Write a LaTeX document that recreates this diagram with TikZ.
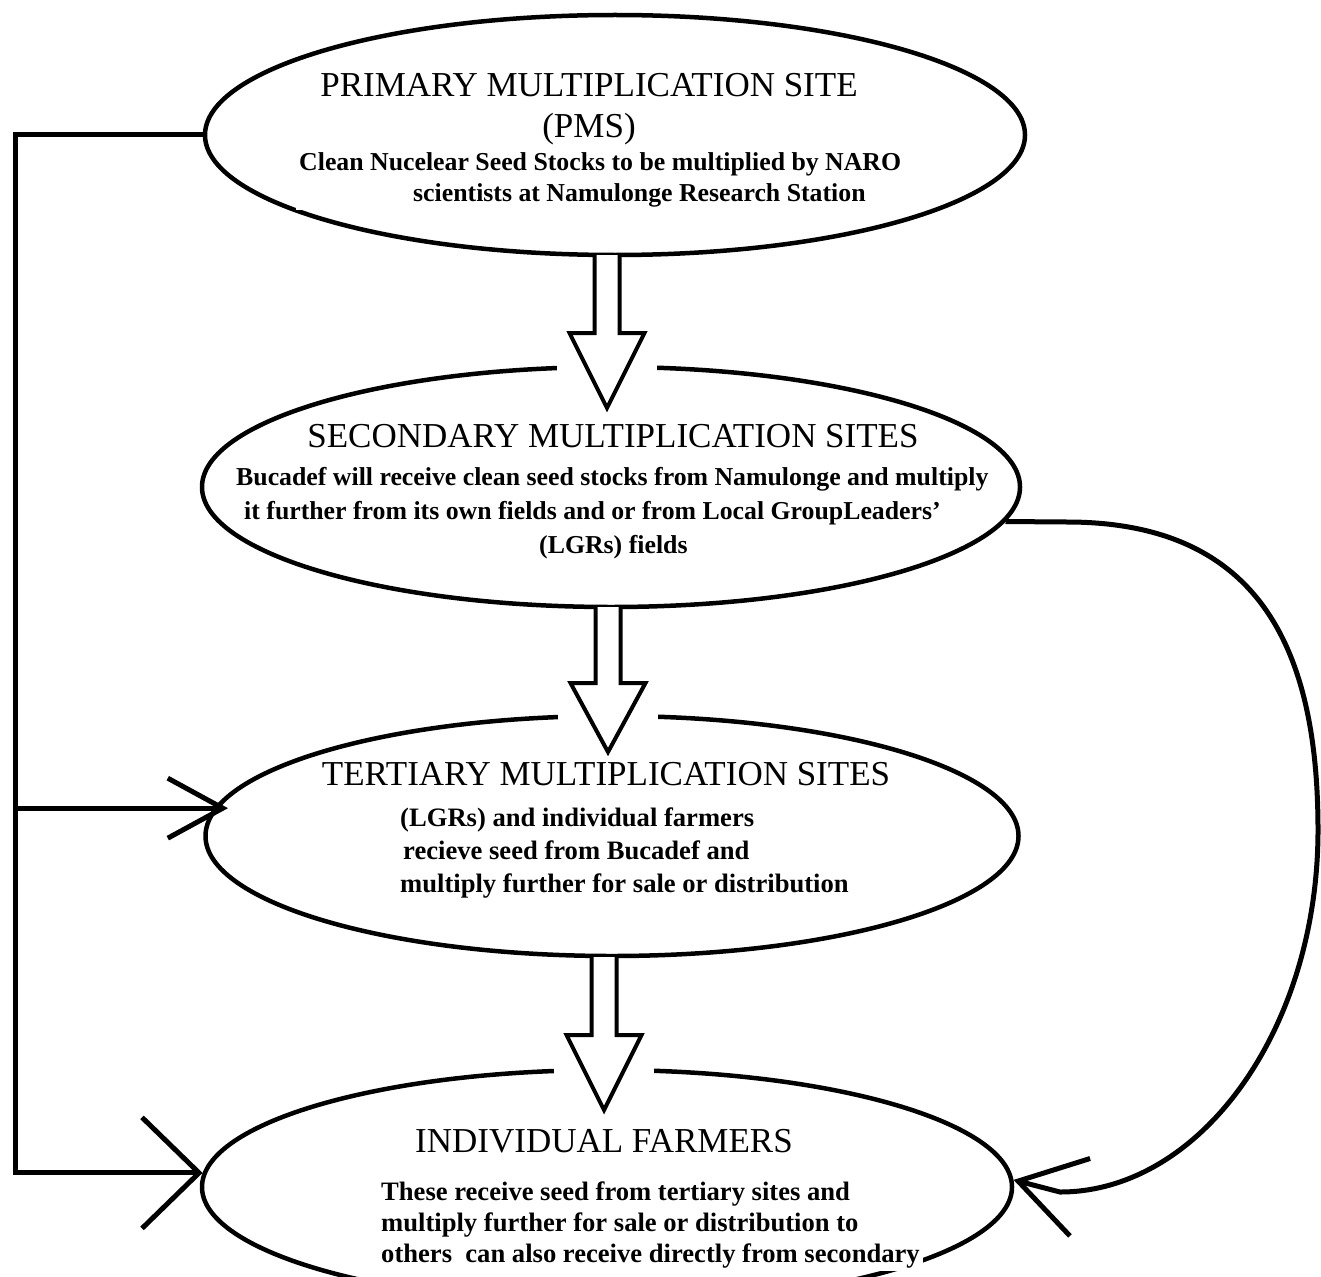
\documentclass[tikz,border=0pt]{standalone}
\usepackage{fontspec}
\setmainfont{Liberation Serif}
\usepackage{tikz}
\usetikzlibrary{shapes.geometric,arrows.meta}

\tikzset{
	site/.style={ellipse, draw, line width=4.5pt, inner sep=0pt},
	link/.style={line width=5pt},
	blockarrow/.style={draw, fill=white, line width=4pt},
	heading/.style={font=\fontsize{35}{41}\selectfont, align=center, anchor=base, inner sep=0pt},
	blurb/.style={font=\bfseries\fontsize{25.8}{31}\selectfont, align=left, anchor=base west, inner sep=3pt}
}

% hollow arrow between two sites: x, start of shaft, start of head, tip
\newcommand{\sitearrow}[4]{%
	\fill[white] ({#1-50},#3) rectangle ({#1+50},{#4-8});
	\draw[blockarrow] ({#1-12.5},#2) -- ({#1-12.5},#3) -- ({#1-37.5},#3) -- (#1,#4) -- ({#1+37.5},#3) -- ({#1+12.5},#3) -- ({#1+12.5},#2);
}

\begin{document}
\begin{tikzpicture}[x=1pt,y=-1pt]
	\useasboundingbox (0,0) rectangle (1321,1276);
	\clip (0,0) rectangle (1321,1276);
	%\draw[step=100,color=gray] (0,0) grid (1321,1276);
	\node[site, minimum width=820pt, minimum height=240pt] (pms) at (615,135) {};
	\node[site, minimum width=818pt, minimum height=240pt] (sms) at (611,487) {};
	\node[site, minimum width=813pt, minimum height=240pt] (tms) at (612,836) {};
	\node[site, minimum width=810pt, minimum height=234pt] (fms) at (607,1187) {};

	\sitearrow{607}{255}{333}{408}
	\sitearrow{608}{607}{683}{752}
	\sitearrow{604}{957}{1035}{1110}

	% feeds on the left
	\draw[link, -{Straight Barb[length=57pt,width=111pt]}] (pms.west) -- (15,135) -- (fms.178 -| 15,0) -- (fms.178);
	\draw[link, shorten >=-14pt, -{Straight Barb[length=55pt,width=60pt]}] (tms.176 -| 15,0) -- (tms.176);
	% from secondary sites straight to farmers
	\draw[link, -{Straight Barb[length=64pt,width=80pt]}] (sms.-5) -- (1067,522) .. controls (1260,522) and (1318,650) .. (1318,830) .. controls (1318,1030) and (1200,1192) .. (1060,1192) -- (fms.1);

	\node[heading] (pmstitle) at (589,138) {PRIMARY MULTIPLICATION SITE\\(PMS)};
	\node[blurb, fill=white] (pmstext) at (296,201) {Clean Nucelear Seed Stocks to be multiplied by NARO\\\hspace*{114pt}scientists at Namulonge Research Station};

	\node[heading] (smstitle) at (613,447) {SECONDARY MULTIPLICATION SITES};
	\node[blurb, font=\bfseries\fontsize{25.8}{34}\selectfont] (smstext) at (233,553) {Bucadef will receive clean seed stocks from Namulonge and multiply\\\hspace*{8pt}it further from its own fields and or from Local GroupLeaders'\\\hspace*{303pt}(LGRs) fields};

	\node[heading] (tmstitle) at (606,785) {TERTIARY MULTIPLICATION SITES};
	\node[blurb, font=\bfseries\fontsize{26.6}{33}\selectfont] (tmstext) at (397,892) {(LGRs) and individual farmers\\\hspace*{3pt}recieve seed from Bucadef and\\multiply further for sale or distribution};

	\node[heading] (fmstitle) at (604,1152) {INDIVIDUAL FARMERS};
	\node[blurb, fill=white, font=\bfseries\fontsize{26.6}{31}\selectfont] (fmstext) at (378,1262) {These receive seed from tertiary sites and\\multiply further for sale or distribution to\\others~ can also receive directly from secondary};
\end{tikzpicture}
\end{document}
